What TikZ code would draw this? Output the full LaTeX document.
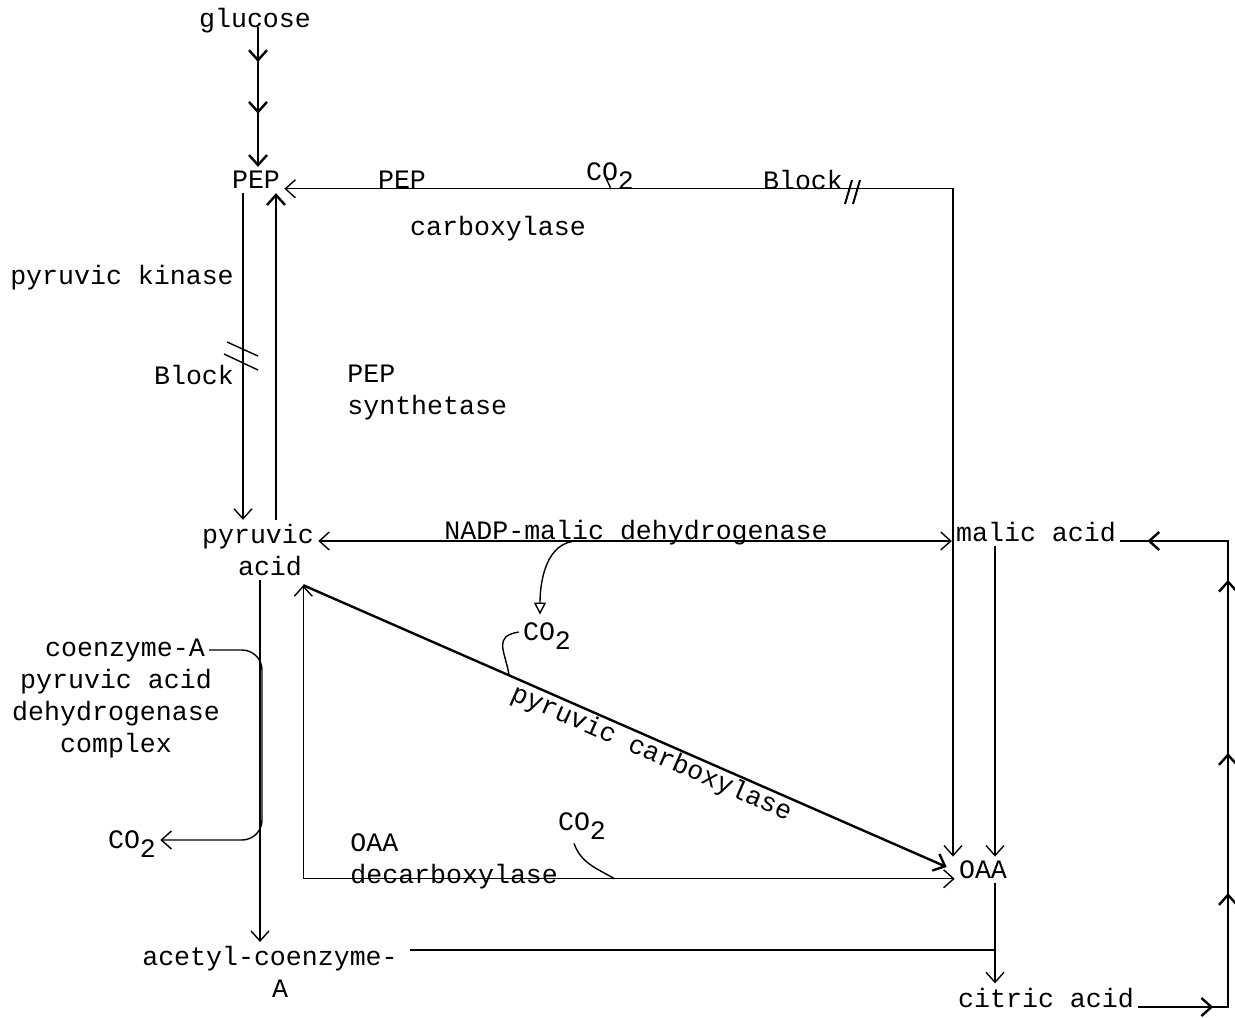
\documentclass[tikz,border=0pt]{standalone}
\usepackage{fontspec}
\setmainfont{Liberation Mono}
\usetikzlibrary{arrows.meta, calc, decorations.markings}

\newcommand{\cotwo}{CO\smash{\raisebox{-0.6ex}{2}}}

\begin{document}
\begin{tikzpicture}[x=0.5pt, y=-0.5pt,
    >={Straight Barb[length=5pt,width=9pt]},
    txt/.style={inner sep=2pt, align=center, font=\fontsize{13.3}{16}\selectfont},
    line/.style={draw, line width=0.7pt, ->},
    heavy/.style={draw, line width=1.2pt, ->},
    plain/.style={draw, line width=0.7pt}]

    \useasboundingbox (0,0) rectangle (1235,1017);

    % compounds
    \node [txt, anchor=base] (glu) at (255,27) {glucose};
    \node [txt] (pep) at (256,180) {PEP};
    \node [txt] (pyr) at (258,550) {pyruvic\\\hspace*{12pt}acid};
    \node [txt, anchor=base] (malic) at (1036,541) {malic acid};
    \node [txt] (oaa) at (983,870) {OAA};
    \node [txt, anchor=base] (citric) at (1046,1007) {citric acid};
    \node [txt] (acoa) at (270,972) {acetyl-coenzyme-\\\hspace*{10pt}A};

    % enzymes and CO2
    \node [txt] (pk) at (122,278) {pyruvic kinase};
    \node [txt] (blk1) at (194,375) {Block};
    \node [txt, align=left, anchor=west] (pepsyn) at (343,392) {PEP\\synthetase};
    \node [txt] (pepc) at (402,180) {PEP};
    \node [txt] (co2a) at (610,172) {\cotwo};
    \node [txt] (blk2) at (803,180) {Block};
    \node [txt] (carb) at (498,229) {carboxylase};
    \node [txt] (nadp) at (636,533) {NADP-malic dehydrogenase};
    \node [txt] (co2b) at (547,632) {\cotwo};
    \node [txt] (coa) at (125,650) {coenzyme-A};
    \node [txt] (pdh) at (116,714) {pyruvic acid\\dehydrogenase\\complex};
    \node [txt] (co2d) at (132,840) {\cotwo};
    \node [txt, align=left, anchor=west] (oaadc) at (346,861) {OAA\\decarboxylase};
    \node [txt] (co2c) at (582,822) {\cotwo};

    \coordinate (xg) at (258,0);
    \coordinate (xk) at (243,0);
    \coordinate (xs) at (276,0);
    \coordinate (xb) at (260,0);
    \coordinate (xd) at (262,0);
    \coordinate (xr) at (953,0);
    \coordinate (xc) at (995,0);
    \coordinate (xl) at (1228,0);

    % glycolysis
    \draw [heavy, postaction={decorate}, decoration={markings,
        mark=at position 0.25 with {\arrow{>}}, mark=at position 0.62 with {\arrow{>}}}]
        (glu.base -| xg) -- (pep.north -| xg);
    \draw [line] (pep.south -| xk) -- (pyr.north -| xk);
    \draw [heavy] (pyr.north -| xs) -- (pep.south -| xs);
    \draw [plain] (227,342) -- (258,356);
    \draw [plain] (224,354) -- (258,370);

    % PEP carboxylase
    \draw [line, <->] (pep.base east) -- (pep.base east -| xr) -- (oaa.north -| xr);
    \draw [plain] (606,178) -- (611,189);
    \draw [plain, line width=1pt] (845,204) -- (852,180);
    \draw [plain, line width=1pt] (853,204) -- (860,180);

    % malic enzyme
    \draw [line, <->] (pyr.east |- malic.base west) -- (malic.base west);
    \coordinate (nadpfork) at ($(malic.base west -| co2b)+(31,0)$);
    \draw [line, -{Triangle[open,length=6pt,width=6pt]}] (nadpfork) to[out=180, in=90] ($(co2b.north)+(-7,-4)$);

    % pyruvic carboxylase
    \coordinate (pyrc) at ($(pyr.south east)+(-15,5)$);
    \coordinate (oaain) at ($(oaa.west)+(-8,-3)$);
    \draw [heavy] (pyrc) -- (oaain)
        node [txt, sloped, below, pos=0.55, inner sep=0.5pt] (pcarb) {pyruvic carboxylase};
    \coordinate (pcfork) at ($(pyrc)!0.32!(oaain)$);
    \draw [plain] (co2b.west) to[out=190, in=100, looseness=1.5] (pcfork);

    % OAA decarboxylase
    \draw [line, <->] (pyrc) -- (pyrc |- oaa.base west) -- (oaa.base west);
    \coordinate (decfork) at ($(oaa.base west)+(-340,0)$);
    \draw [plain] ($(co2c.south)+(-8,8)$) to[out=-70, in=150] (decfork);

    % pyruvic acid dehydrogenase
    \draw [line] (pyr.south -| xb) -- (acoa.north -| xb);
    \draw [line, rounded corners=10] (coa.east) -- (coa.east -| xd) -- (co2d.east -| xd) -- (co2d.east);

    % citric acid cycle
    \draw [line] (malic.south -| xc) -- (oaa.north -| xc);
    \draw [line] (oaa.south -| xc) -- (citric.north -| xc);
    \coordinate (acoaout) at ($(acoa.north east)+(8,8)$);
    \draw [plain] (acoaout) -- (acoaout -| xc);
    \draw [heavy, -, postaction={decorate}, decoration={markings,
        mark=at position 0.113 with {\arrow{>}}, mark=at position 0.307 with {\arrow{>}},
        mark=at position 0.518 with {\arrow{>}}, mark=at position 0.779 with {\arrow{>}},
        mark=at position 0.959 with {\arrow{>}}}]
        (citric.base east) -- (citric.base east -| xl) -- (malic.base east -| xl) -- (malic.base east);
\end{tikzpicture}
\end{document}
